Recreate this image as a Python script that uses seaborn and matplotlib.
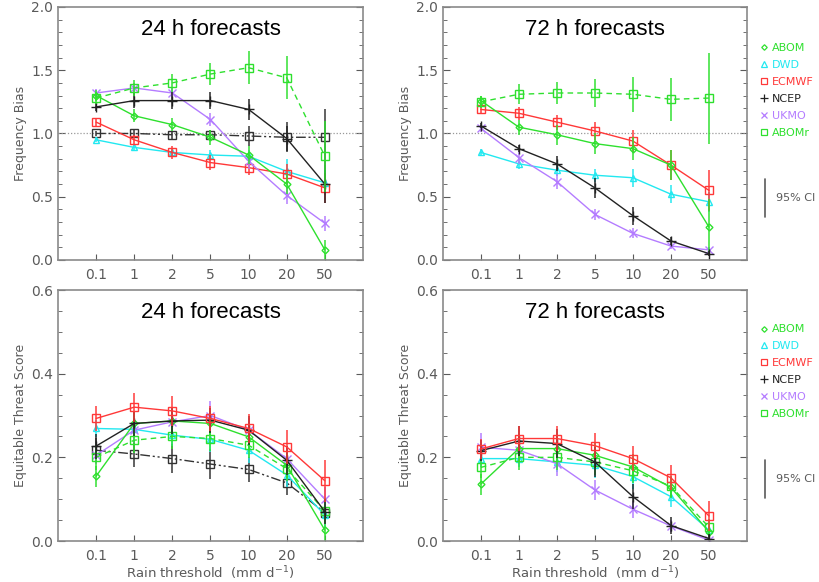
import numpy as np
import pandas as pd
import matplotlib
matplotlib.use("Agg")
import matplotlib.pyplot as plt
from matplotlib.lines import Line2D
from matplotlib.ticker import MultipleLocator
import seaborn as sns

# rain thresholds (mm/day)
thresholds = ["0.1", "1", "2", "5", "10", "20", "50"]
models = ["ABOM", "DWD", "ECMWF", "NCEP", "UKMO", "ABOMr"]

# frequency bias, 24 h
fb24_abom = [1.30, 1.14, 1.07, 0.97, 0.83, 0.60, 0.08]
fb24_dwd = [0.95, 0.89, 0.85, 0.83, 0.82, 0.70, 0.61]
fb24_ecmwf = [1.09, 0.95, 0.85, 0.77, 0.73, 0.68, 0.57]
fb24_ncep = [1.21, 1.26, 1.26, 1.26, 1.19, 0.96, 0.60]
fb24_ukmo = [1.32, 1.36, 1.32, 1.11, 0.78, 0.51, 0.29]
fb24_abomr = [1.28, 1.36, 1.40, 1.47, 1.52, 1.44, 0.82]
fb24_ref = [1.00, 1.00, 0.99, 0.99, 0.98, 0.97, 0.97]
fb24_abom_ci = [0.04, 0.05, 0.05, 0.06, 0.07, 0.08, 0.08]
fb24_dwd_ci = [0.02, 0.03, 0.03, 0.04, 0.05, 0.10, 0.10]
fb24_ecmwf_ci = [0.03, 0.04, 0.05, 0.06, 0.06, 0.08, 0.12]
fb24_ncep_ci = [0.03, 0.06, 0.07, 0.07, 0.08, 0.10, 0.15]
fb24_ukmo_ci = [0.03, 0.04, 0.05, 0.05, 0.06, 0.07, 0.06]
fb24_abomr_ci = [0.05, 0.06, 0.07, 0.09, 0.13, 0.17, 0.28]
fb24_ref_ci = [0.02, 0.03, 0.03, 0.04, 0.08, 0.12, 0.22]

# frequency bias, 72 h
fb72_abom = [1.26, 1.05, 0.99, 0.92, 0.88, 0.75, 0.26]
fb72_dwd = [0.85, 0.76, 0.71, 0.67, 0.65, 0.52, 0.46]
fb72_ecmwf = [1.19, 1.16, 1.09, 1.02, 0.94, 0.75, 0.55]
fb72_ncep = [1.06, 0.88, 0.76, 0.57, 0.35, 0.15, 0.05]
fb72_ukmo = [1.04, 0.81, 0.62, 0.36, 0.21, 0.11, 0.08]
fb72_abomr = [1.25, 1.31, 1.32, 1.32, 1.31, 1.27, 1.28]
fb72_abom_ci = [0.04, 0.06, 0.08, 0.08, 0.09, 0.12, 0.22]
fb72_dwd_ci = [0.03, 0.04, 0.05, 0.05, 0.07, 0.07, 0.08]
fb72_ecmwf_ci = [0.03, 0.05, 0.06, 0.07, 0.09, 0.12, 0.16]
fb72_ncep_ci = [0.02, 0.03, 0.06, 0.08, 0.07, 0.03, 0.02]
fb72_ukmo_ci = [0.03, 0.05, 0.06, 0.04, 0.04, 0.02, 0.02]
fb72_abomr_ci = [0.05, 0.08, 0.09, 0.11, 0.14, 0.17, 0.36]

# equitable threat score, 24 h
ets24_abom = [0.155, 0.281, 0.287, 0.281, 0.249, 0.181, 0.026]
ets24_dwd = [0.269, 0.267, 0.253, 0.243, 0.217, 0.158, 0.062]
ets24_ecmwf = [0.293, 0.320, 0.311, 0.293, 0.269, 0.225, 0.144]
ets24_ncep = [0.227, 0.281, 0.287, 0.289, 0.265, 0.193, 0.070]
ets24_ukmo = [0.205, 0.265, 0.285, 0.300, 0.265, 0.197, 0.100]
ets24_abomr = [0.200, 0.241, 0.250, 0.245, 0.229, 0.173, 0.072]
ets24_ref = [0.217, 0.208, 0.197, 0.184, 0.171, 0.139, 0.068]
ets24_abom_ci = [0.025, 0.03, 0.03, 0.03, 0.03, 0.03, 0.03]
ets24_dwd_ci = [0.02, 0.02, 0.025, 0.03, 0.03, 0.03, 0.03]
ets24_ecmwf_ci = [0.03, 0.035, 0.035, 0.03, 0.035, 0.04, 0.05]
ets24_ncep_ci = [0.03, 0.03, 0.03, 0.03, 0.035, 0.035, 0.03]
ets24_ukmo_ci = [0.02, 0.03, 0.03, 0.035, 0.03, 0.03, 0.03]
ets24_abomr_ci = [0.03, 0.03, 0.03, 0.03, 0.03, 0.03, 0.03]
ets24_ref_ci = [0.03, 0.03, 0.035, 0.035, 0.03, 0.03, 0.02]

# equitable threat score, 72 h
ets72_abom = [0.136, 0.221, 0.221, 0.205, 0.177, 0.128, 0.022]
ets72_dwd = [0.197, 0.197, 0.189, 0.181, 0.154, 0.106, 0.026]
ets72_ecmwf = [0.220, 0.245, 0.245, 0.228, 0.197, 0.151, 0.060]
ets72_ncep = [0.216, 0.239, 0.233, 0.189, 0.106, 0.037, 0.006]
ets72_ukmo = [0.224, 0.217, 0.185, 0.122, 0.076, 0.036, 0.002]
ets72_abomr = [0.176, 0.200, 0.200, 0.189, 0.168, 0.131, 0.033]
ets72_abom_ci = [0.025, 0.03, 0.03, 0.03, 0.03, 0.025, 0.015]
ets72_dwd_ci = [0.02, 0.02, 0.025, 0.03, 0.03, 0.025, 0.02]
ets72_ecmwf_ci = [0.025, 0.03, 0.03, 0.03, 0.03, 0.03, 0.035]
ets72_ncep_ci = [0.025, 0.035, 0.035, 0.035, 0.03, 0.02, 0.01]
ets72_ukmo_ci = [0.035, 0.03, 0.03, 0.025, 0.02, 0.015, 0.01]
ets72_abomr_ci = [0.025, 0.03, 0.03, 0.03, 0.03, 0.025, 0.02]

colors = {"ABOM": "#2ee02e", "DWD": "#22e8f0", "ECMWF": "#ff3838",
          "NCEP": "#222222", "UKMO": "#b47cff", "ABOMr": "#2ee02e",
          "ref": "#333333"}
markers = {"ABOM": "D", "DWD": "^", "ECMWF": "s", "NCEP": "+",
           "UKMO": "x", "ABOMr": "s", "ref": "s"}
msizes = {"ABOM": 3.5, "DWD": 5, "ECMWF": 6, "NCEP": 7, "UKMO": 6,
          "ABOMr": 6, "ref": 6}
styles = {"ABOM": "-", "DWD": "-", "ECMWF": "-", "NCEP": "-", "UKMO": "-",
          "ABOMr": (0, (4, 3)), "ref": (0, (7, 2, 1.5, 2, 1.5, 2))}

GREY = "#5a5a5a"


def draw_series(ax, name, vals, ci):
    df = pd.DataFrame({"x": np.arange(len(thresholds)), "y": vals})
    c = colors[name]
    sns.lineplot(data=df, x="x", y="y", ax=ax, color=c, lw=1.0,
                 linestyle=styles[name], marker=markers[name],
                 markersize=msizes[name], markerfacecolor="none",
                 markeredgecolor=c, markeredgewidth=1.0)
    ax.errorbar(df["x"], df["y"], yerr=ci, fmt="none", ecolor=c,
                elinewidth=1.2, capsize=0, alpha=0.9)


def style_axes(ax, ymax, major, minor, ylabel, title, xlabel=None):
    ax.set_xlim(-1, 7)
    ax.set_ylim(0, ymax)
    ax.set_xticks(np.arange(len(thresholds)))
    ax.set_xticklabels(thresholds)
    ax.yaxis.set_major_locator(MultipleLocator(major))
    ax.yaxis.set_minor_locator(MultipleLocator(minor))
    ax.yaxis.set_major_formatter(matplotlib.ticker.FormatStrFormatter("%.1f"))
    ax.tick_params(axis="y", which="both", direction="in", left=True,
                   right=True, colors=GREY, labelsize=10)
    ax.tick_params(axis="y", which="major", length=5)
    ax.tick_params(axis="y", which="minor", length=3)
    ax.tick_params(axis="x", direction="in", length=4, colors=GREY,
                   labelsize=10, pad=6)
    for sp in ax.spines.values():
        sp.set_color("#8a8a8a")
        sp.set_linewidth(1.2)
        sp.set_visible(True)
    ax.set_ylabel(ylabel, color=GREY, fontsize=9, labelpad=3)
    ax.set_xlabel(xlabel if xlabel else "", color=GREY, fontsize=9.5,
                  labelpad=1)
    ax.text(0.5, 0.912, title, transform=ax.transAxes, ha="center",
            va="center", fontsize=16, family="Liberation Sans", color="black")


sns.set_style("ticks")
fig = plt.figure(figsize=(8.2, 5.82), dpi=100)

ax1 = fig.add_axes([0.0707, 0.5533, 0.372, 0.4347])
ax2 = fig.add_axes([0.540, 0.5533, 0.371, 0.4347])
ax3 = fig.add_axes([0.0707, 0.0704, 0.372, 0.4313])
ax4 = fig.add_axes([0.540, 0.0704, 0.371, 0.4313])

for ax in (ax1, ax2):
    ax.axhline(1.0, color="#999999", ls=(0, (1, 1.5)), lw=0.9)

# top left: FB 24 h
draw_series(ax1, "ref", fb24_ref, fb24_ref_ci)
draw_series(ax1, "DWD", fb24_dwd, fb24_dwd_ci)
draw_series(ax1, "ECMWF", fb24_ecmwf, fb24_ecmwf_ci)
draw_series(ax1, "UKMO", fb24_ukmo, fb24_ukmo_ci)
draw_series(ax1, "ABOM", fb24_abom, fb24_abom_ci)
draw_series(ax1, "NCEP", fb24_ncep, fb24_ncep_ci)
draw_series(ax1, "ABOMr", fb24_abomr, fb24_abomr_ci)

# top right: FB 72 h
draw_series(ax2, "DWD", fb72_dwd, fb72_dwd_ci)
draw_series(ax2, "ECMWF", fb72_ecmwf, fb72_ecmwf_ci)
draw_series(ax2, "UKMO", fb72_ukmo, fb72_ukmo_ci)
draw_series(ax2, "ABOM", fb72_abom, fb72_abom_ci)
draw_series(ax2, "NCEP", fb72_ncep, fb72_ncep_ci)
draw_series(ax2, "ABOMr", fb72_abomr, fb72_abomr_ci)

# bottom left: ETS 24 h
draw_series(ax3, "ref", ets24_ref, ets24_ref_ci)
draw_series(ax3, "DWD", ets24_dwd, ets24_dwd_ci)
draw_series(ax3, "UKMO", ets24_ukmo, ets24_ukmo_ci)
draw_series(ax3, "ABOM", ets24_abom, ets24_abom_ci)
draw_series(ax3, "ABOMr", ets24_abomr, ets24_abomr_ci)
draw_series(ax3, "NCEP", ets24_ncep, ets24_ncep_ci)
draw_series(ax3, "ECMWF", ets24_ecmwf, ets24_ecmwf_ci)

# bottom right: ETS 72 h
draw_series(ax4, "DWD", ets72_dwd, ets72_dwd_ci)
draw_series(ax4, "UKMO", ets72_ukmo, ets72_ukmo_ci)
draw_series(ax4, "ABOM", ets72_abom, ets72_abom_ci)
draw_series(ax4, "ABOMr", ets72_abomr, ets72_abomr_ci)
draw_series(ax4, "NCEP", ets72_ncep, ets72_ncep_ci)
draw_series(ax4, "ECMWF", ets72_ecmwf, ets72_ecmwf_ci)

xlab = r"Rain threshold  (mm d$^{-1}$)"
style_axes(ax1, 2.0, 0.5, 0.1, "Frequency Bias", "24 h forecasts")
style_axes(ax2, 2.0, 0.5, 0.1, "Frequency Bias", "72 h forecasts")
style_axes(ax3, 0.6, 0.2, 0.05, "Equitable Threat Score", "24 h forecasts", xlab)
style_axes(ax4, 0.6, 0.2, 0.05, "Equitable Threat Score", "72 h forecasts", xlab)

# legends to the right of the two right-hand panels
handles = [Line2D([], [], ls="none", marker=markers[m], color=colors[m],
                  markerfacecolor="none", markersize=msizes[m] * 0.8,
                  markeredgewidth=0.9) for m in models]
for ypos in (0.935, 0.452):
    leg = fig.legend(handles, models, loc="upper left",
                     bbox_to_anchor=(0.920, ypos), frameon=False,
                     fontsize=8, labelcolor="linecolor", handlelength=0.7,
                     handletextpad=0.4, labelspacing=0.62, borderpad=0)
for ytop, ybot, ytxt in ((0.693, 0.627, 0.660), (0.210, 0.144, 0.177)):
    fig.add_artist(Line2D([0.9335, 0.9335], [ybot, ytop], color=GREY, lw=1.2))
    fig.text(0.946, ytxt, "95% CI", color=GREY, fontsize=8, va="center")

fig.savefig("out.png", dpi=100)
